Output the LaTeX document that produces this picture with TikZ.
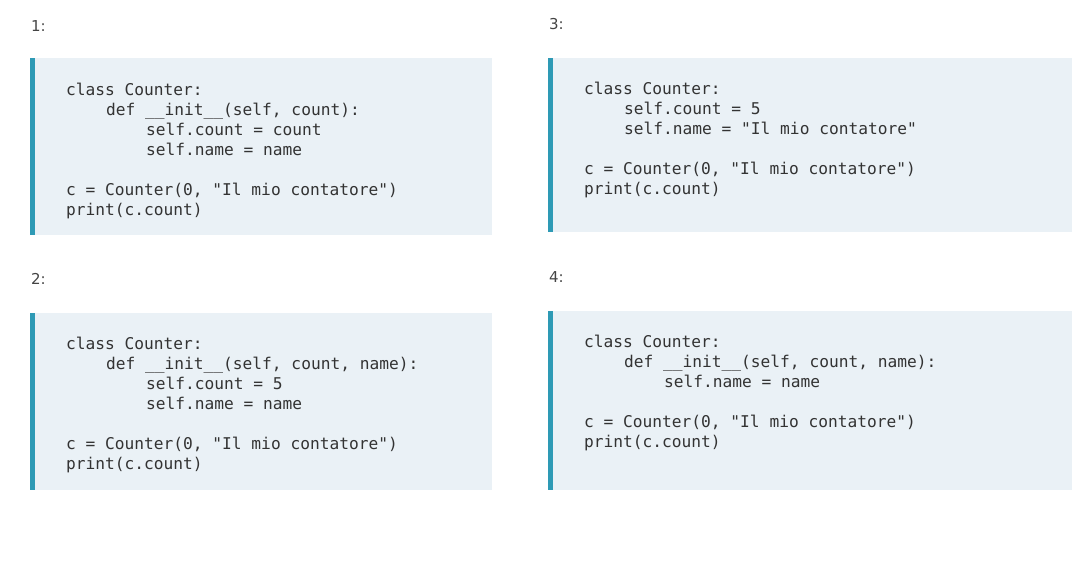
\documentclass[tikz,border=0pt]{standalone}
\usepackage{fontspec}
\newfontfamily\codefont{DejaVu Sans Mono}
\newfontfamily\labelfont{DejaVu Sans}
\usetikzlibrary{positioning}
\definecolor{boxbg}{HTML}{EAF1F6}
\definecolor{boxbar}{HTML}{2E9AB5}
\definecolor{labelgray}{HTML}{444444}
\newcommand\tb{\hspace*{40pt}}
\tikzset{
  code box/.style={fill=boxbg, draw=none},
  code text/.style={anchor=north west, inner sep=0pt, align=left, text=black!80,
    font=\codefont\fontsize{16.2}{20}\selectfont},
  num label/.style={anchor=west, inner sep=0pt, text=labelgray,
    font=\labelfont\fontsize{15}{18}\selectfont}
}
\begin{document}
\begin{tikzpicture}[x=1pt,y=1pt]
  \useasboundingbox (0,0) rectangle (1092,-573);
  % boxes
  \fill[code box] (30,-58) rectangle (492,-235);
  \fill[boxbar] (30,-58) rectangle (35,-235);
  \fill[code box] (548,-58) rectangle (1072,-232);
  \fill[boxbar] (548,-58) rectangle (553,-232);
  \fill[code box] (30,-313) rectangle (492,-490);
  \fill[boxbar] (30,-313) rectangle (35,-490);
  \fill[code box] (548,-311) rectangle (1072,-490);
  \fill[boxbar] (548,-311) rectangle (553,-490);
  % labels
  \node[num label] (l1) at (31,-26) {1:};
  \node[num label] (l3) at (549,-24) {3:};
  \node[num label] (l2) at (31,-279) {2:};
  \node[num label] (l4) at (549,-277) {4:};
  % code
  \node[code text] (c1) at (66,-83) {class Counter:\\
    \tb def \_\_init\_\_(self, count):\\
    \tb\tb self.count = count\\
    \tb\tb self.name = name\\[20pt]
    c = Counter(0, "Il mio contatore")\\
    print(c.count)};
  \node[code text] (c3) at (584,-82) {class Counter:\\
    \tb self.count = 5\\
    \tb self.name = "Il mio contatore"\\[20pt]
    c = Counter(0, "Il mio contatore")\\
    print(c.count)};
  \node[code text] (c2) at (66,-337) {class Counter:\\
    \tb def \_\_init\_\_(self, count, name):\\
    \tb\tb self.count = 5\\
    \tb\tb self.name = name\\[20pt]
    c = Counter(0, "Il mio contatore")\\
    print(c.count)};
  \node[code text] (c4) at (584,-335) {class Counter:\\
    \tb def \_\_init\_\_(self, count, name):\\
    \tb\tb self.name = name\\[20pt]
    c = Counter(0, "Il mio contatore")\\
    print(c.count)};
\end{tikzpicture}
\end{document}
